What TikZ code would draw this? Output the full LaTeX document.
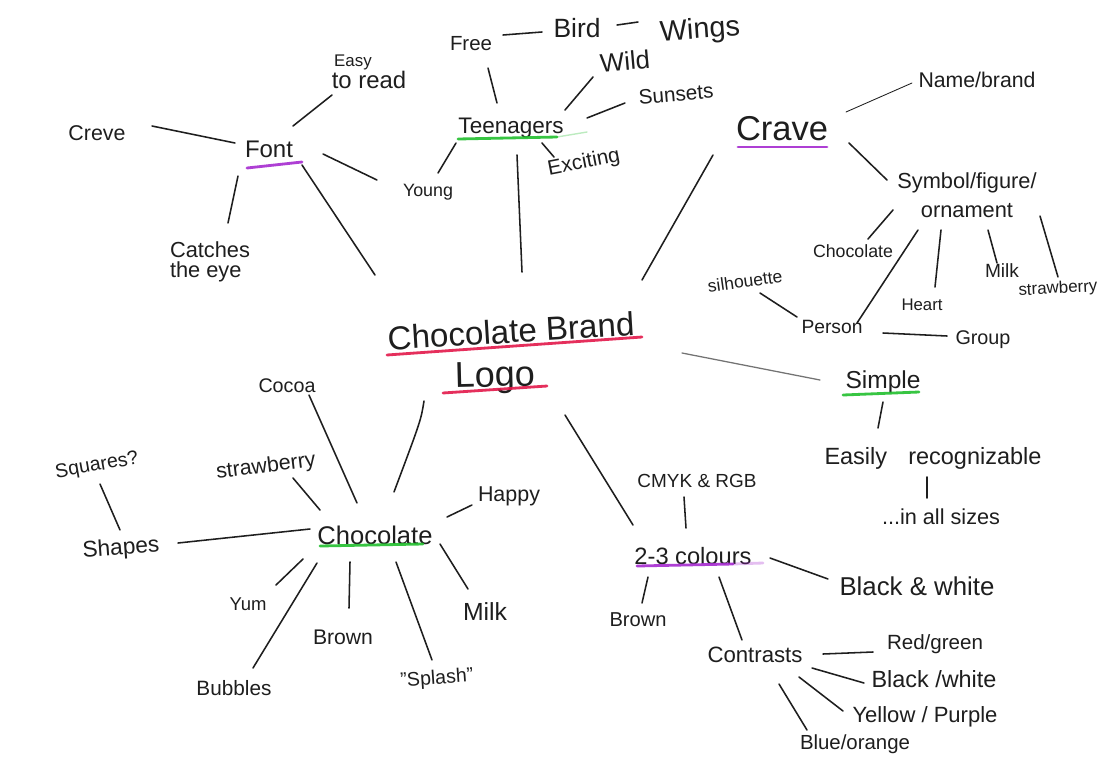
\documentclass[tikz,border=0pt]{standalone}
\usepackage{fontspec}
\setmainfont{Liberation Sans}
\usepackage{graphicx}
\usetikzlibrary{calc}
\newlength\pxu
\setlength\pxu{0.025cm}
\newcommand\T[2]{\resizebox{#1\pxu}{!}{#2}}
\newcommand\conn[5][]{\draw[link,#1] ($(#2.center)+(#3)$) -- ($(#4.center)+(#5)$);}
\newcommand\uline[4]{\draw[ul,draw=#1] ($(#2.center)+(#3)$) -- ($(#2.center)+(#4)$);}
\definecolor{ink}{HTML}{1E1E1E}
\definecolor{ulred}{HTML}{E3194B}
\definecolor{ulpurple}{HTML}{A62BD0}
\definecolor{ulgreen}{HTML}{22BF2E}
\begin{document}
\begin{tikzpicture}[x=0.025cm,y=-0.025cm,
  lbl/.style={inner sep=0pt,text=ink},
  link/.style={draw=ink,line width=1.1pt,line cap=round},
  ul/.style={line width=2pt,line cap=round,opacity=0.9}]
\fill[white] (0,0) rectangle (1114,765);
\useasboundingbox (0,0) rectangle (1114,765);

% ---- centre
\node[lbl,rotate=3.5] (cbrand) at (511,331) {\T{247}{Chocolate Brand}};
\node[lbl,rotate=1.5] (logo) at (495,378) {\T{80}{Logo}};

% ---- Font branch
\node[lbl] (font) at (269,149) {\T{48}{Font}};
\node[lbl] (creve) at (97,133) {\T{57}{Creve}};
\node[lbl,align=left,font=\fontsize{17}{11}\selectfont] (easy) at (369,72) {\hspace{0.1em}{\fontsize{12}{11}\selectfont Easy}\\to read};
\node[lbl,align=left,font=\fontsize{15.5}{14.2}\selectfont] (catches) at (210,262) {Catches\\the eye};
\node[lbl] (young) at (428,192) {\T{50}{Young}};

% ---- Teenagers branch
\node[lbl] (teen) at (511,128) {\T{105}{Teenagers}};
\node[lbl] (free) at (471,44) {\T{42}{Free}};
\node[lbl] (bird) at (577,28) {\T{47}{Bird}};
\node[lbl,rotate=4] (wings) at (700,31) {\T{80}{Wings}};
\node[lbl,rotate=5] (wild) at (625,61) {\T{50}{Wild}};
\node[lbl,rotate=5] (sunsets) at (676,94) {\T{75}{Sunsets}};
\node[lbl,rotate=11] (exciting) at (584,163) {\T{73}{Exciting}};

% ---- Crave branch
\node[lbl] (crave) at (782,129) {\T{92}{Crave}};
\node[lbl] (namebrand) at (977,80) {\T{117}{Name/brand}};
\node[lbl,align=center,font=\fontsize{15.5}{20.6}\selectfont] (symbol) at (967,195) {Symbol/figure/\\ornament};
\node[lbl] (chocs) at (853,251) {\T{80}{Chocolate}};
\node[lbl] (heart) at (922,305) {\T{41}{Heart}};
\node[lbl] (milks) at (1002,271) {\T{34}{Milk}};
\node[lbl,rotate=3] (straws) at (1058,289) {\T{79}{strawberry}};
\node[lbl,rotate=8] (silh) at (745,281) {\T{75}{silhouette}};
\node[lbl] (person) at (832,327) {\T{61}{Person}};
\node[lbl] (group) at (983,340) {\T{55}{Group}};

% ---- Simple branch
\node[lbl] (simple) at (883,382) {\T{75}{Simple}};
\node[lbl] (easily) at (933,458) {\T{217}{Easily\hspace{0.9em}recognizable}};
\node[lbl] (sizes) at (941,517) {\T{118}{...in all sizes}};

% ---- colours branch
\node[lbl] (colours) at (693,556) {\T{117}{2-3 colours}};
\node[lbl] (cmyk) at (697,481) {\T{119}{CMYK \& RGB}};
\node[lbl] (brownb) at (638,620) {\T{57}{Brown}};
\node[lbl] (bw) at (917,586) {\T{155}{Black \& white}};
\node[lbl] (contrasts) at (755,655) {\T{95}{Contrasts}};
\node[lbl] (redgreen) at (935,644) {\T{96}{Red/green}};
\node[lbl] (blackwhite) at (934,679) {\T{125}{Black /white}};
\node[lbl] (yellow) at (925,717) {\T{145}{Yellow / Purple}};
\node[lbl] (blue) at (855,744) {\T{110}{Blue/orange}};

% ---- Chocolate branch
\node[lbl] (choc) at (375,535) {\T{115}{Chocolate}};
\node[lbl] (cocoa) at (287,386) {\T{57}{Cocoa}};
\node[lbl,rotate=10] (squares) at (97,466) {\T{84}{Squares?}};
\node[lbl,rotate=7] (straw) at (266,467) {\T{100}{strawberry}};
\node[lbl,rotate=4] (shapes) at (121,549) {\T{77}{Shapes}};
\node[lbl] (happy) at (509,496) {\T{62}{Happy}};
\node[lbl] (yum) at (248,604) {\T{37}{Yum}};
\node[lbl] (bubbles) at (234,688) {\T{75}{Bubbles}};
\node[lbl] (brown) at (343,637) {\T{60}{Brown}};
\node[lbl,rotate=4] (splash) at (437,679) {\T{73}{"Splash"}};
\node[lbl] (milk) at (485,612) {\T{44}{Milk}};

% ---- underlines
\uline{ulred}{cbrand}{-124,24}{131,6}
\uline{ulred}{logo}{-52,15}{52,8}
\uline{ulpurple}{font}{-22,19}{33,13}
\uline{ulgreen}{teen}{-53,11}{46,9}
\draw[ul,draw=ulgreen,opacity=0.3,line width=1pt] ($(teen.center)+(46,9)$) -- ($(teen.center)+(76,4)$);
\uline{ulpurple}{crave}{-44,18}{45,18}
\uline{ulgreen}{simple}{-40,13}{36,10}
\uline{ulpurple}{colours}{-56,10}{40,8}
\draw[ul,draw=ulpurple,opacity=0.3] ($(colours.center)+(40,8)$) -- ($(colours.center)+(70,7)$);
\uline{ulgreen}{choc}{-55,11}{48,9}

% ---- connectors
\conn{creve}{55,-7}{font}{-34,-6}
\conn{easy}{-37,23}{font}{24,-23}
\conn{catches}{18,-39}{font}{-31,27}
\conn{font}{54,5}{young}{-51,-12}
\conn{font}{33,16}{cbrand}{-136,-56}
\conn{teen}{-55,15}{young}{10,-19}
\conn{free}{17,24}{teen}{-14,-25}
\conn{wild}{-32,16}{teen}{54,-18}
\conn{sunsets}{-51,9}{teen}{76,-10}
\conn{teen}{31,15}{exciting}{-30,-6}
\conn{teen}{6,27}{cbrand}{11,-59}
\conn{free}{32,-9}{bird}{-35,4}
\conn{bird}{40,-3}{wings}{-62,-9}
\conn{crave}{-69,26}{cbrand}{131,-51}
\conn[line width=0.6pt]{crave}{64,-17}{namebrand}{-65,3}
\conn{crave}{67,14}{symbol}{-80,-15}
\conn{symbol}{-74,15}{chocs}{15,-12}
\conn{symbol}{-49,35}{person}{25,-4}
\conn{symbol}{-26,35}{heart}{13,-18}
\conn{symbol}{21,35}{milks}{-5,-8}
\conn{symbol}{73,21}{straws}{0,-12}
\conn{silh}{15,12}{person}{-35,-10}
\conn{person}{51,6}{group}{-36,-4}
\conn[draw=black!55,line width=0.9pt]{cbrand}{171,22}{simple}{-63,-2}
\conn{simple}{0,20}{easily}{-55,-30}
\conn{easily}{-6,19}{sizes}{-14,-19}
\conn{logo}{70,37}{colours}{-60,-31}
\conn{cmyk}{-13,16}{colours}{-7,-28}
\conn{colours}{-45,21}{brownb}{4,-17}
\conn{colours}{26,21}{contrasts}{-13,-15}
\conn{colours}{77,2}{bw}{-89,-7}
\conn{contrasts}{68,-1}{redgreen}{-62,8}
\conn{contrasts}{57,13}{blackwhite}{-70,4}
\conn{contrasts}{44,22}{yellow}{-82,-6}
\conn{contrasts}{24,29}{blue}{-48,-14}
\draw[link] ($(logo.center)+(-71,23)$) .. controls ($(logo.center)+(-74,42)$) .. ($(choc.center)+(19,-43)$);
\conn{cocoa}{22,9}{choc}{-18,-32}
\conn{straw}{27,11}{choc}{-55,-25}
\conn{squares}{3,18}{shapes}{-1,-19}
\conn{shapes}{57,-6}{choc}{-65,-6}
\conn{happy}{-37,9}{choc}{72,-18}
\conn{yum}{28,-19}{choc}{-72,24}
\conn{bubbles}{19,-20}{choc}{-58,28}
\conn{brown}{6,-29}{choc}{-25,27}
\conn{splash}{-5,-19}{choc}{21,27}
\conn{milk}{-17,-23}{choc}{65,9}
\end{tikzpicture}
\end{document}
